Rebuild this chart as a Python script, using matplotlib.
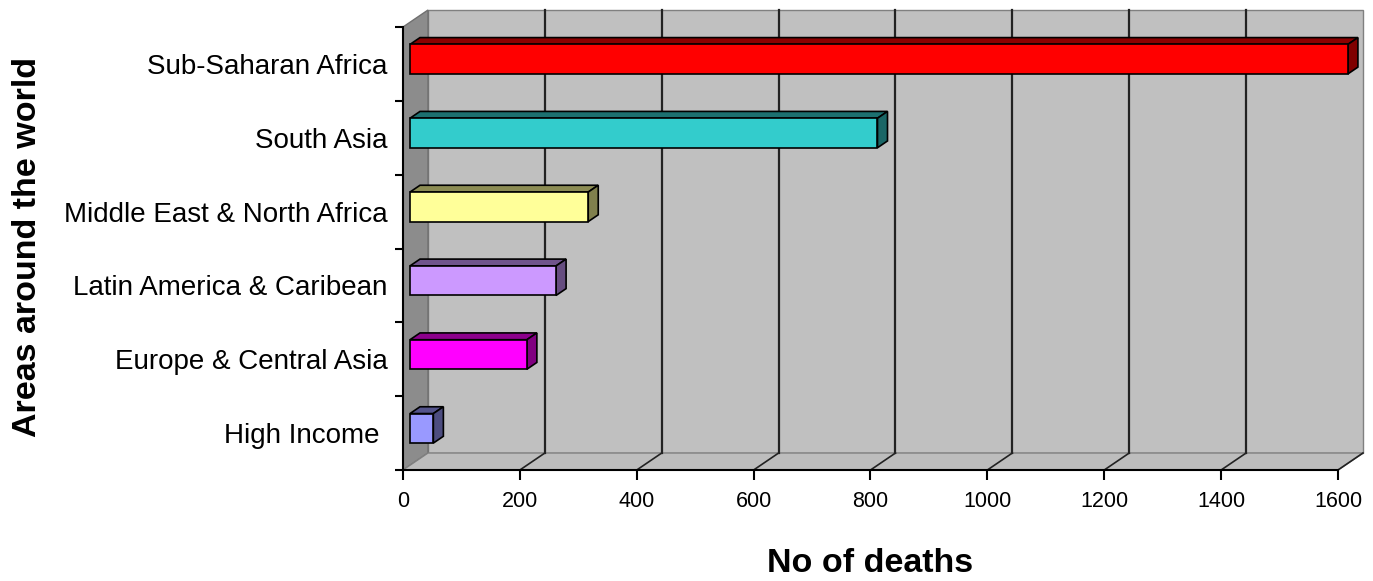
import matplotlib.pyplot as plt
from matplotlib.patches import Polygon, Rectangle
import matplotlib.colors as mcolors

plt.rcParams['font.family'] = ['Liberation Sans', 'DejaVu Sans']

# regions, bottom to top
regions = ['High Income ', 'Europe & Central Asia', 'Latin America & Caribean',
           'Middle East & North Africa', 'South Asia', 'Sub-Saharan Africa']
deaths = [40, 200, 250, 305, 800, 1605]
bar_colors = ['#9999ff', '#ff00ff', '#cc99ff', '#ffff99', '#33cccc', '#ff0000']
x_ticks = [0, 200, 400, 600, 800, 1000, 1200, 1400, 1600]

xmax = 1600
n = len(regions)
ymin, ymax = -0.5, n - 0.5

fig = plt.figure(figsize=(13.73, 5.81), dpi=100)
ax = fig.add_axes([403 / 1373, 1 - 470 / 581, 935 / 1373, 443 / 581])
ax.set_xlim(0, xmax)
ax.set_ylim(ymin, ymax)

# depth of the 3-D box in data units (about 25 px right, 17 px up)
px_x = xmax / 935
px_y = n / 443
dx = 25 * px_x
dy = 17 * px_y

wall = '#c0c0c0'
kw = dict(clip_on=False)

# back wall
ax.add_patch(Rectangle((dx, ymin + dy), xmax, n, facecolor=wall,
                       edgecolor='#808080', lw=1, zorder=0, **kw))
# left side wall
ax.add_patch(Polygon([(0, ymin), (dx, ymin + dy), (dx, ymax + dy), (0, ymax)],
                     closed=True, facecolor='#8c8c8c', edgecolor='#707070',
                     lw=1, zorder=0.5, **kw))
# floor
ax.add_patch(Polygon([(0, ymin), (xmax, ymin), (xmax + dx, ymin + dy), (dx, ymin + dy)],
                     closed=True, facecolor='#bdbdbd', edgecolor='#808080',
                     lw=1, zorder=0.5, **kw))

# gridlines on back wall and floor
for t in x_ticks[1:-1]:
    ax.plot([t + dx, t + dx], [ymin + dy, ymax + dy], color='#222222',
            lw=1.6, zorder=1, **kw)
for t in x_ticks[1:]:
    ax.plot([t, t + dx], [ymin, ymin + dy], color='#222222', lw=1.2,
            zorder=1, **kw)

# 3-D bars
f, b = 0.28, 0.68
h = 0.4


def shade(c, k):
    r, g, bl = mcolors.to_rgb(c)
    return (r * k, g * k, bl * k)


for i, (v, c) in enumerate(zip(deaths, bar_colors)):
    x0f, y0f = f * dx, i + f * dy
    x0b, y0b = b * dx, i + b * dy
    ax.barh(y0f, v, left=x0f, height=h, color=c, edgecolor='black',
            lw=1.2, zorder=3, clip_on=False)
    top = [(x0f, y0f + h / 2), (x0f + v, y0f + h / 2),
           (x0b + v, y0b + h / 2), (x0b, y0b + h / 2)]
    side = [(x0f + v, y0f - h / 2), (x0b + v, y0b - h / 2),
            (x0b + v, y0b + h / 2), (x0f + v, y0f + h / 2)]
    ax.add_patch(Polygon(top, closed=True, facecolor=shade(c, 0.55),
                         edgecolor='black', lw=1.2, zorder=2.5, **kw))
    ax.add_patch(Polygon(side, closed=True, facecolor=shade(c, 0.5),
                         edgecolor='black', lw=1.2, zorder=2.5, **kw))

# axes frame: only front left and bottom lines
for s in ['top', 'right']:
    ax.spines[s].set_visible(False)
for s in ['left', 'bottom']:
    ax.spines[s].set_color('black')
    ax.spines[s].set_linewidth(1.5)
    ax.spines[s].set_zorder(4)

ax.set_xticks(x_ticks)
ax.set_xticklabels([str(t) for t in x_ticks], fontsize=15.5)
ax.tick_params(axis='x', length=7, width=1.5, pad=8)

ax.set_yticks(range(n))
ax.set_yticklabels(regions, fontsize=20)
ax.set_yticks([k - 0.5 for k in range(n + 1)], minor=True)
ax.tick_params(axis='y', which='major', length=0, pad=11)
ax.tick_params(axis='y', which='minor', length=6, width=1.5)

fig.text(870 / 1373, 1 - 563 / 581, 'No of deaths', ha='center', va='center',
         fontsize=24.5, fontweight='bold')
fig.text(28 / 1373, 1 - 247 / 581, 'Areas around the world', ha='center',
         va='center', rotation=90, fontsize=24.5, fontweight='bold')

fig.savefig('out.png', dpi=100, facecolor='white')
